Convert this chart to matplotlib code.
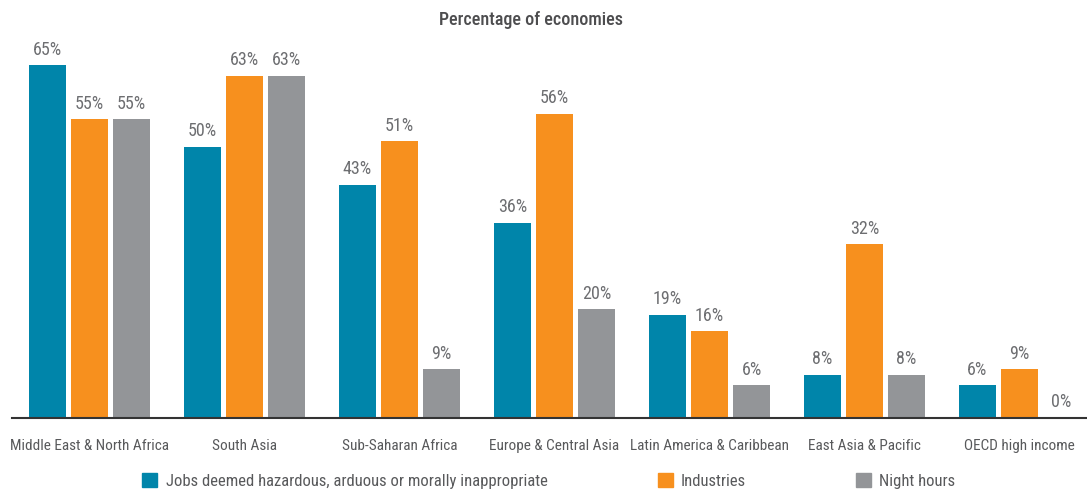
import numpy as np
import matplotlib
matplotlib.use("Agg")
import matplotlib.pyplot as plt
from matplotlib.patches import Patch

plt.rcParams['font.family'] = ['Roboto Condensed', 'DejaVu Sans']

regions = ["Middle East & North Africa", "South Asia", "Sub-Saharan Africa",
           "Europe & Central Asia", "Latin America & Caribbean",
           "East Asia & Pacific", "OECD high income"]
jobs = [65, 50, 43, 36, 19, 8, 6]
industries = [55, 63, 51, 56, 16, 32, 9]
night = [55, 63, 9, 20, 6, 8, 0]

series_names = ["Jobs deemed hazardous, arduous or morally inappropriate",
                "Industries", "Night hours"]
colors = ["#0085AA", "#F7901E", "#939598"]

W, H = 1087, 490
fig = plt.figure(figsize=(W / 100, H / 100), dpi=100)
ax = fig.add_axes([12 / W, (H - 418) / H, (W - 12) / W, (418 - 30) / H])

x = np.arange(len(regions))
bw = 0.245
step = 0.271
for i, (vals, c) in enumerate(zip([jobs, industries, night], colors)):
    pos = x + (i - 1) * step
    ax.bar(pos, vals, width=bw, color=c)
    for p, v in zip(pos, vals):
        ax.text(p, v + 1.2, f"{v}%", ha="center", va="bottom",
                fontsize=13, color="#6D6E71")

ax.set_xlim(-0.5, -0.5 + (W - 12) / 155)
ax.set_ylim(0, 388 / 5.43)
for s in ["top", "right", "left"]:
    ax.spines[s].set_visible(False)
ax.spines["bottom"].set_color("#333333")
ax.spines["bottom"].set_linewidth(1.5)
ax.set_yticks([])
ax.set_xticks(x)
ax.set_xticklabels(regions, fontsize=11, color="#58595B")
ax.tick_params(axis="x", length=0, pad=15)

fig.text(531 / W, 1 - 20 / H, "Percentage of economies", ha="center", va="center",
         fontsize=13, color="#4D4D4F", fontweight="medium")

handles = [Patch(color=c) for c in colors]
fig.legend(handles, series_names, loc="center", bbox_to_anchor=(549 / W, 1 - 481 / H),
           ncol=3, frameon=False, fontsize=12, labelcolor="#58595B",
           handlelength=0.9, handleheight=0.9, handletextpad=0.5, columnspacing=6.6)

fig.savefig("out.png", dpi=100)
